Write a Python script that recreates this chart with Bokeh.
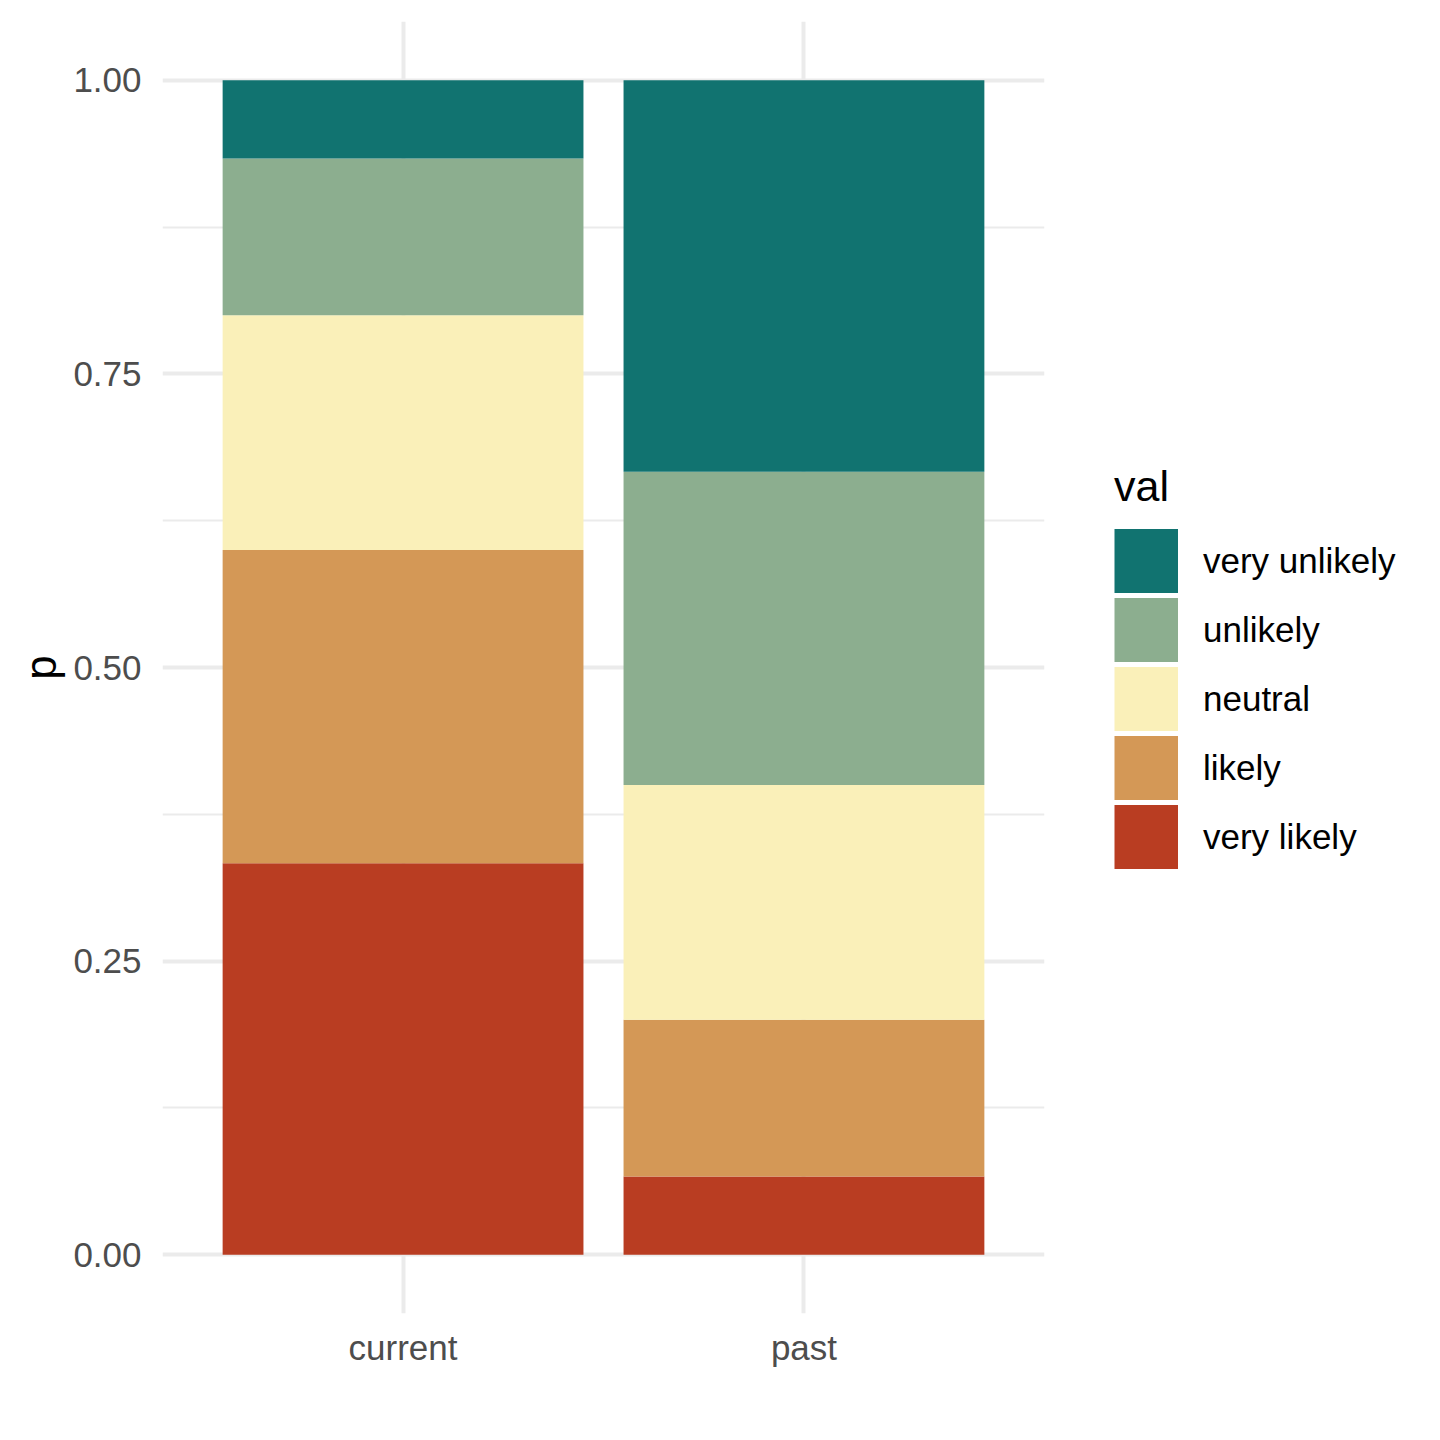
from bokeh.plotting import figure
from bokeh.models import FactorRange, Range1d, FixedTicker, Legend, LegendItem, ColumnDataSource
from bokeh.embed import file_html
from bokeh.resources import INLINE

# ---- data ----
categories = ["current", "past"]
levels = ["very likely", "likely", "neutral", "unlikely", "very unlikely"]  # bottom -> top
very_likely = [5/15, 1/15]
likely = [4/15, 2/15]
neutral = [3/15, 3/15]
unlikely = [2/15, 4/15]
very_unlikely = [1/15, 5/15]
colors = ["#B93D22", "#D49856", "#FAF0B9", "#8CAE8F", "#117370"]
y_ticks = [0, 0.25, 0.5, 0.75, 1.0]
y_tick_labels = ["0.00", "0.25", "0.50", "0.75", "1.00"]
y_minor = [0.125, 0.375, 0.625, 0.875]

src = ColumnDataSource(dict(x=categories, **{
    "very likely": very_likely,
    "likely": likely,
    "neutral": neutral,
    "unlikely": unlikely,
    "very unlikely": very_unlikely,
}))

FONT = "Liberation Sans"

p = figure(
    x_range=FactorRange(factors=categories, range_padding=0.1),
    y_range=Range1d(-0.05, 1.05),
    frame_width=882, frame_height=1292,
    min_border_left=162, min_border_top=21, min_border_bottom=90, min_border_right=376,
    output_backend="svg", toolbar_location=None,
)
p.outline_line_color = None
p.background_fill_color = "white"

rs = p.vbar_stack(levels, x="x", width=0.9, source=src, fill_color=colors, line_color=None)

# legend key swatches (full-size squares): single-point line renderers draw nothing
# in the plot, and are only used to paint the legend keys
key_rs = [p.line(x=[categories[0]], y=[0.0], line_color=c, line_width=64, line_cap="butt")
          for c in colors]

# axes
p.yaxis.ticker = FixedTicker(ticks=y_ticks, minor_ticks=y_minor)
p.yaxis.major_label_overrides = {t: l for t, l in zip(y_ticks, y_tick_labels)}
for ax in (p.xaxis[0], p.yaxis[0]):
    ax.axis_line_color = None
    ax.major_tick_line_color = None
    ax.minor_tick_line_color = None
    ax.major_label_text_font = FONT
    ax.major_label_text_font_size = "35px"
    ax.major_label_text_color = "#4D4D4D"
p.yaxis.major_label_standoff = 15
p.xaxis.major_label_standoff = 8
p.yaxis.axis_label = "p"
p.yaxis.axis_label_text_font = FONT
p.yaxis.axis_label_text_font_size = "44px"
p.yaxis.axis_label_text_font_style = "normal"
p.yaxis.axis_label_text_color = "black"
p.yaxis.axis_label_standoff = 5

# grids
p.xgrid.grid_line_color = "#EBEBEB"
p.xgrid.grid_line_width = 4
p.ygrid.grid_line_color = "#EBEBEB"
p.ygrid.grid_line_width = 4
p.ygrid.minor_grid_line_color = "#EBEBEB"
p.ygrid.minor_grid_line_width = 2

# legend
items = [LegendItem(label=lv, renderers=[kr]) for lv, kr in zip(levels, key_rs)][::-1]
legend = Legend(
    items=items, location=(70, 442), title="val",
    title_text_font=FONT, title_text_font_size="43px", title_text_font_style="normal",
    title_text_color="black", title_standoff=15,
    label_text_font=FONT, label_text_font_size="35px", label_text_color="black",
    glyph_width=64, glyph_height=69, label_height=69, spacing=0, label_standoff=25,
    padding=0, margin=0, border_line_color=None, background_fill_alpha=0,
)
p.add_layout(legend, "right")

open("out.html", "w").write(file_html(p, INLINE))
